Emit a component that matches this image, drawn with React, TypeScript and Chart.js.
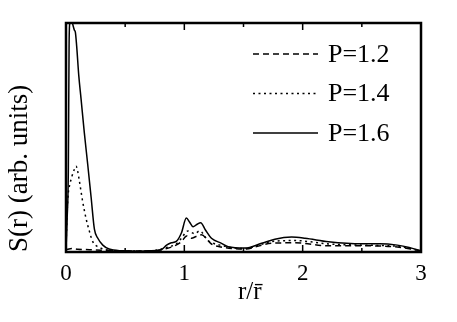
import React, { useEffect, useRef } from 'react';
import { Chart, registerables } from 'chart.js';

Chart.register(...registerables);

const seriesLabels = ['P=1.2', 'P=1.4', 'P=1.6'];
const seriesDashes: number[][] = [[6, 4], [2, 3.5], []];

const rP12 = [0, 0.05, 0.1, 0.2, 0.3, 0.5, 0.7, 0.85, 0.93, 0.975, 1.02, 1.06, 1.1, 1.144, 1.229, 1.31, 1.5, 1.737, 1.935, 2.218, 2.5, 2.8, 3.0];
const sP12 = [0.1, 0.15, 0.12, 0.1, 0.08, 0.04, 0.04, 0.15, 0.3, 0.45, 0.7, 0.6, 0.68, 0.75, 0.35, 0.22, 0.13, 0.38, 0.4, 0.27, 0.27, 0.22, 0.05];

const rP14 = [0, 0.01, 0.02, 0.03, 0.05, 0.07, 0.085, 0.1, 0.113, 0.141, 0.17, 0.198, 0.226, 0.282, 0.364, 0.5, 0.7, 0.85, 0.93, 0.975, 1.03, 1.087, 1.13, 1.2, 1.3, 1.5, 1.737, 1.935, 2.218, 2.5, 2.8, 3.0];
const sP14 = [0.2, 1.8, 2.6, 2.9, 3.3, 3.6, 3.75, 3.5, 3.1, 2.2, 1.45, 0.9, 0.45, 0.2, 0.08, 0.04, 0.04, 0.2, 0.35, 0.6, 0.92, 0.8, 0.92, 0.5, 0.3, 0.15, 0.45, 0.5, 0.35, 0.3, 0.25, 0.05];

const rP16 = [0, 0.01, 0.02, 0.026, 0.032, 0.045, 0.059, 0.07, 0.079, 0.09, 0.108, 0.127, 0.155, 0.184, 0.212, 0.24, 0.269, 0.311, 0.364, 0.48, 0.6, 0.7, 0.805, 0.85, 0.89, 0.932, 0.975, 1.017, 1.045, 1.074, 1.105, 1.138, 1.18, 1.229, 1.314, 1.37, 1.511, 1.653, 1.765, 1.907, 2.02, 2.218, 2.5, 2.65, 2.8, 2.9, 3.0];
const sP16 = [0.1, 1.5, 3.7, 9.0, 10.0, 10.2, 9.9, 9.7, 9.6, 9.0, 7.7, 6.7, 5.2, 3.8, 2.4, 1.0, 0.6, 0.3, 0.13, 0.05, 0.03, 0.05, 0.1, 0.3, 0.4, 0.46, 0.83, 1.48, 1.3, 1.1, 1.2, 1.28, 0.95, 0.6, 0.38, 0.23, 0.17, 0.38, 0.56, 0.65, 0.6, 0.45, 0.36, 0.36, 0.3, 0.2, 0.05];

const xMin = 0;
const xMax = 3;
const xStep = 0.5;
const yMin = 0;
const yMax = 10;
const xTitle = '\u2002r/r\u0304';
const yTitle = 'S(r) (arb. units)';

const FAMILY = '"Liberation Serif", "Times New Roman", Tinos, Times, serif';

const toPoints = (xs: number[], ys: number[]) => xs.map((x, i) => ({ x, y: ys[i] }));

const framePlugin = {
  id: 'frameTicks',
  afterDatasetsDraw(chart: any) {
    const { ctx, chartArea } = chart;
    const xs = chart.scales.x;
    ctx.save();
    ctx.strokeStyle = '#000';
    ctx.lineWidth = 1.5;
    ctx.setLineDash([]);
    for (let v = xMin; v <= xMax + 1e-9; v += xStep) {
      const px = xs.getPixelForValue(v);
      const len = Math.abs(v - Math.round(v)) < 1e-9 ? 7 : 4;
      ctx.beginPath();
      ctx.moveTo(px, chartArea.bottom);
      ctx.lineTo(px, chartArea.bottom - len);
      ctx.moveTo(px, chartArea.top);
      ctx.lineTo(px, chartArea.top + len);
      ctx.stroke();
    }
    ctx.lineWidth = 2.5;
    ctx.strokeRect(chartArea.left, chartArea.top, chartArea.right - chartArea.left, chartArea.bottom - chartArea.top);
    const legendY = [54, 93.5, 133];
    ctx.font = '26px ' + FAMILY;
    ctx.fillStyle = '#000';
    ctx.textBaseline = 'middle';
    ctx.textAlign = 'left';
    chart.data.datasets.forEach((ds: any, i: number) => {
      ctx.lineWidth = 1.5;
      ctx.setLineDash(ds.borderDash || []);
      ctx.beginPath();
      ctx.moveTo(253, legendY[i]);
      ctx.lineTo(318, legendY[i]);
      ctx.stroke();
      ctx.setLineDash([]);
      ctx.fillText(ds.label, 328, legendY[i] + 1);
    });
    ctx.restore();
  },
};

export default function App() {
  const ref = useRef<HTMLCanvasElement | null>(null);
  useEffect(() => {
    if (!ref.current) return;
    Chart.defaults.font.family = FAMILY;
    Chart.defaults.color = '#000';
    const series = [toPoints(rP12, sP12), toPoints(rP14, sP14), toPoints(rP16, sP16)];
    const chart = new Chart(ref.current, {
      type: 'line',
      data: {
        datasets: series.map((pts, i) => ({
          label: seriesLabels[i],
          data: pts,
          borderColor: '#000',
          borderWidth: 1.5,
          borderDash: seriesDashes[i],
          pointRadius: 0,
          fill: false,
          cubicInterpolationMode: 'monotone' as const,
        })),
      },
      options: {
        animation: false,
        responsive: true,
        maintainAspectRatio: false,
        layout: { padding: { top: 23, right: 36, left: 0, bottom: 0 } },
        plugins: { legend: { display: false }, tooltip: { enabled: false } },
        scales: {
          x: {
            type: 'linear',
            min: xMin,
            max: xMax,
            grid: { display: false, drawTicks: false },
            border: { display: false },
            ticks: {
              stepSize: xStep,
              padding: 8,
              maxRotation: 0,
              autoSkip: false,
              font: { size: 23, family: FAMILY },
              color: '#000',
              callback: (v: any) => (Math.abs(v - Math.round(v)) < 1e-9 ? String(Math.round(v)) : ''),
            },
            title: { display: true, text: xTitle, font: { size: 25, family: FAMILY }, color: '#000', padding: { top: 0, bottom: 15 } },
            afterFit: (axis: any) => { axis.height = 70; },
          },
          y: {
            type: 'linear',
            min: yMin,
            max: yMax,
            grid: { display: false, drawTicks: false },
            border: { display: false },
            ticks: { display: false },
            title: { display: true, text: yTitle, align: 'start', font: { size: 27, family: FAMILY }, color: '#000', padding: { top: 4, bottom: 0 } },
            afterFit: (axis: any) => { axis.width = 66; },
          },
        },
      },
      plugins: [framePlugin],
    });
    let alive = true;
    if ((document as any).fonts && (document as any).fonts.load) {
      (document as any).fonts.load('26px "Liberation Serif"').then(() => { if (alive) chart.update(); }).catch(() => {});
    }
    return () => { alive = false; chart.destroy(); };
  }, []);
  return (
    <div style={{ position: 'absolute', left: 0, top: 0, width: 457, height: 322, background: '#fff' }}>
      <canvas ref={ref} />
    </div>
  );
}
